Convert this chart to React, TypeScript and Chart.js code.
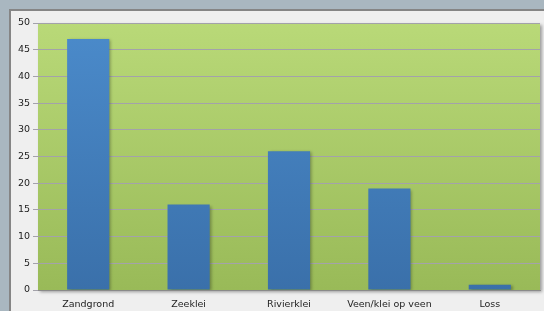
import React, { useEffect, useRef } from "react";
import { Chart, registerables } from "chart.js";

Chart.register(...registerables);

const categories = ["Zandgrond", "Zeeklei", "Rivierklei", "Veen/klei op veen", "Loss"];
const values = [47, 16, 26, 19, 1];
const yMin = 0;
const yMax = 50;
const yStep = 5;

const bgPlugin = {
  id: "bgPlugin",
  beforeDraw(chart: any) {
    const { ctx, width, height, chartArea } = chart;
    ctx.save();
    ctx.fillStyle = "#a9b7c0";
    ctx.fillRect(0, 0, width, height);
    ctx.fillStyle = "#efefef";
    ctx.fillRect(10, 10, width - 10, height - 10);
    ctx.fillStyle = "#858585";
    ctx.fillRect(9, 9, width - 9, 2);
    ctx.fillRect(9, 9, 2, height - 9);
    const g = ctx.createLinearGradient(0, chartArea.top, 0, chartArea.bottom);
    g.addColorStop(0, "#b9d978");
    g.addColorStop(1, "#99ba58");
    ctx.shadowColor = "rgba(0,0,0,0.35)";
    ctx.shadowBlur = 3;
    ctx.shadowOffsetX = 2;
    ctx.shadowOffsetY = 2;
    ctx.fillStyle = g;
    ctx.fillRect(chartArea.left, chartArea.top, chartArea.right - chartArea.left, chartArea.bottom - chartArea.top);
    ctx.restore();
  },
  beforeDatasetsDraw(chart: any) {
    const ctx = chart.ctx;
    ctx.save();
    ctx.shadowColor = "rgba(0,0,0,0.3)";
    ctx.shadowBlur = 3;
    ctx.shadowOffsetX = 2;
    ctx.shadowOffsetY = 1;
  },
  afterDatasetsDraw(chart: any) {
    chart.ctx.restore();
  },
};

export default function App() {
  const ref = useRef<HTMLCanvasElement | null>(null);
  useEffect(() => {
    if (!ref.current) return;
    const chart = new Chart(ref.current, {
      type: "bar",
      data: {
        labels: categories,
        datasets: [
          {
            data: values,
            backgroundColor: (c: any) => {
              const area = c.chart.chartArea;
              if (!area) return "#4a88c8";
              const g = c.chart.ctx.createLinearGradient(0, area.top, 0, area.bottom);
              g.addColorStop(0, "#4b8bcb");
              g.addColorStop(1, "#3a70aa");
              return g;
            },
            borderWidth: 0,
            barPercentage: 0.42,
            categoryPercentage: 1,
          },
        ],
      },
      options: {
        responsive: false,
        animation: false,
        layout: { padding: { left: 0, top: 23, right: 4, bottom: 0 } },
        plugins: { legend: { display: false }, tooltip: { enabled: false } },
        scales: {
          x: {
            grid: { display: false },
            border: { display: true, color: "#8a8a8a", width: 1 },
            ticks: { color: "#222", font: { family: "DejaVu Sans", size: 9.5 }, padding: 1, maxRotation: 0 },
            afterFit: (s: any) => { s.height = 21; },
          },
          y: {
            min: yMin,
            max: yMax,
            ticks: { stepSize: yStep, color: "#222", font: { family: "DejaVu Sans", size: 9.5 }, padding: 3 },
            grid: { color: "#a3a2aa", lineWidth: 1, tickLength: 5, drawTicks: true },
            border: { display: false },
            afterFit: (s: any) => { s.width = 38; },
          },
        },
      },
      plugins: [bgPlugin],
    });
    return () => chart.destroy();
  }, []);
  return (
    <div style={{ position: "absolute", left: 0, top: 0, width: 544, height: 311 }}>
      <canvas ref={ref} width={544} height={311} style={{ display: "block" }} />
    </div>
  );
}
